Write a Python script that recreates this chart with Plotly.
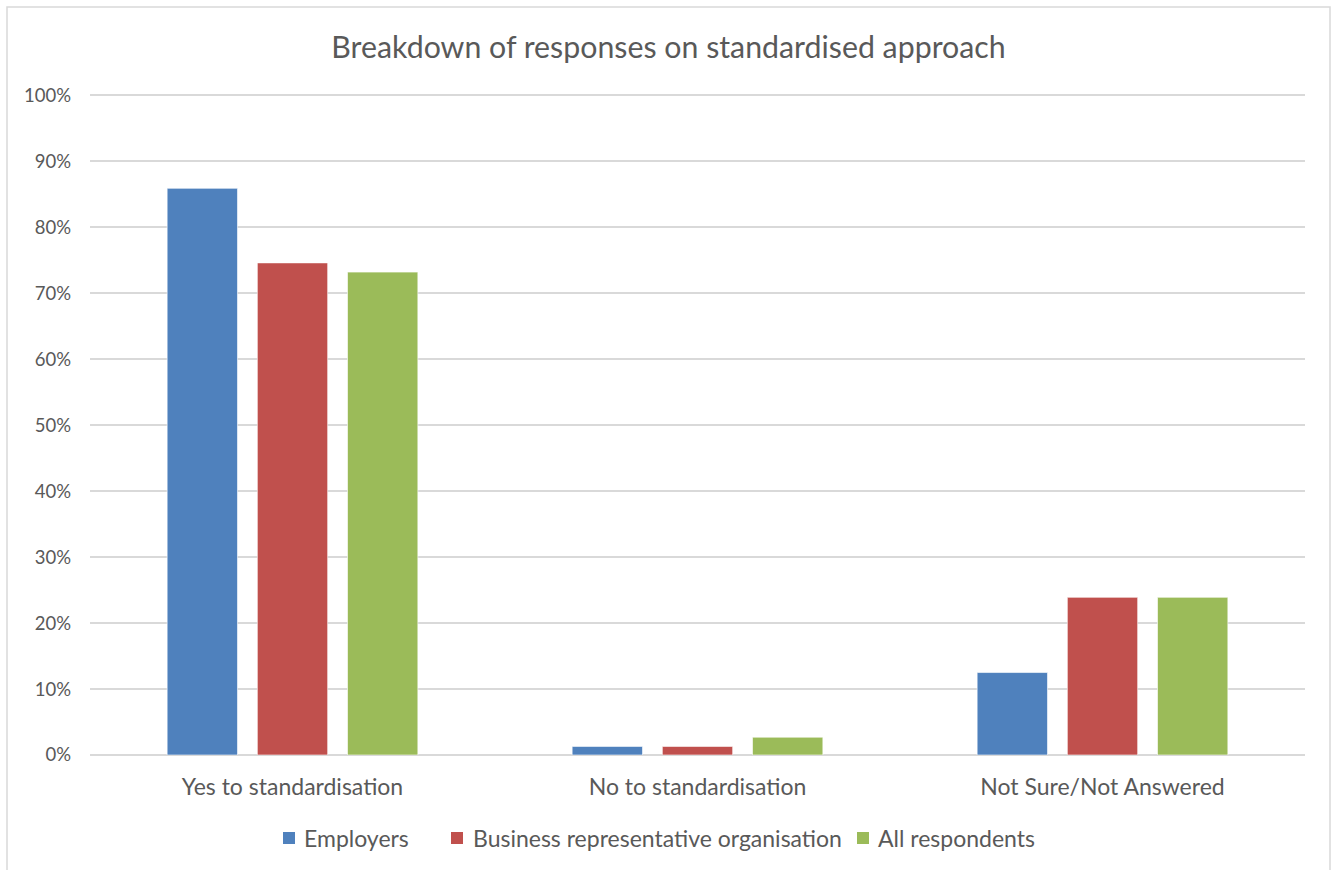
import plotly.graph_objects as go

# Survey results: share of each respondent group per answer
categories = ["Yes to standardisation", "No to standardisation", "Not Sure/Not Answered"]
employers = [85.9, 1.3, 12.5]
business_orgs = [74.6, 1.3, 23.9]
all_respondents = [73.2, 2.7, 23.9]

series_names = ["Employers", "Business representative organisation", "All respondents"]
series_colors = ["#4F81BD", "#C0504D", "#9BBB59"]
y_ticks = list(range(0, 101, 10))

FONT = "Lato"
TEXT_GREY = "#595959"

fig = go.Figure()
for name, vals, color in zip(series_names, [employers, business_orgs, all_respondents], series_colors):
    fig.add_trace(go.Bar(
        x=categories,
        y=vals,
        name=name,
        showlegend=False,
        marker=dict(color=color, line=dict(color="rgba(255,255,255,0.6)", width=1)),
    ))

W, H = 1337, 870
L, R, T, B = 90, 32, 94, 115
pw, ph = W - L - R, H - T - B

def px_x(x):
    return (x - L) / pw

def px_y(y):
    return (H - B - y) / ph

# Legend row below the axis: coloured key squares followed by the series names
legend_square_left = [283, 451, 857]
legend_text_left = [302, 471, 876]
legend_mid = 838
key = 12

shapes = [
    dict(
        type="rect", xref="paper", yref="paper",
        x0=px_x(7), x1=px_x(1330), y0=px_y(873), y1=px_y(7),
        line=dict(color="#D9D9D9", width=1.5),
        fillcolor="rgba(0,0,0,0)",
        layer="below",
    )
]
annotations = []
for name, color, sx, tx in zip(series_names, series_colors, legend_square_left, legend_text_left):
    shapes.append(dict(
        type="rect", xref="paper", yref="paper",
        x0=px_x(sx), x1=px_x(sx + key),
        y0=px_y(legend_mid + key / 2), y1=px_y(legend_mid - key / 2),
        fillcolor=color, line=dict(width=0),
    ))
    annotations.append(dict(
        text=name, xref="paper", yref="paper",
        x=px_x(tx), y=px_y(legend_mid),
        xanchor="left", yanchor="middle",
        showarrow=False,
        font=dict(family=FONT, size=23, color=TEXT_GREY),
    ))

fig.update_layout(
    width=W,
    height=H,
    margin=dict(l=L, r=R, t=T, b=B),
    paper_bgcolor="white",
    plot_bgcolor="white",
    barmode="group",
    bargap=0.332,
    bargroupgap=0.22,
    showlegend=False,
    title=dict(
        text="Breakdown of responses on standardised approach",
        x=0.5, xanchor="center",
        y=1 - 47 / H, yanchor="middle",
        font=dict(family=FONT, size=30.3, color=TEXT_GREY),
    ),
    font=dict(family=FONT, color=TEXT_GREY),
    xaxis=dict(
        showgrid=False,
        showline=False,
        ticks="",
        tickfont=dict(family=FONT, size=23, color=TEXT_GREY),
        ticklabelstandoff=16,
    ),
    yaxis=dict(
        range=[0, 100.2],
        tickvals=y_ticks,
        ticktext=[f"{v}%" for v in y_ticks],
        showgrid=True,
        gridcolor="#D9D9D9",
        gridwidth=1.5,
        zeroline=True,
        zerolinecolor="#D9D9D9",
        zerolinewidth=1.5,
        showline=False,
        ticks="",
        ticklabelstandoff=18,
        tickfont=dict(family=FONT, size=18.5, color=TEXT_GREY),
    ),
    shapes=shapes,
    annotations=annotations,
)

fig.write_html("out.html")
